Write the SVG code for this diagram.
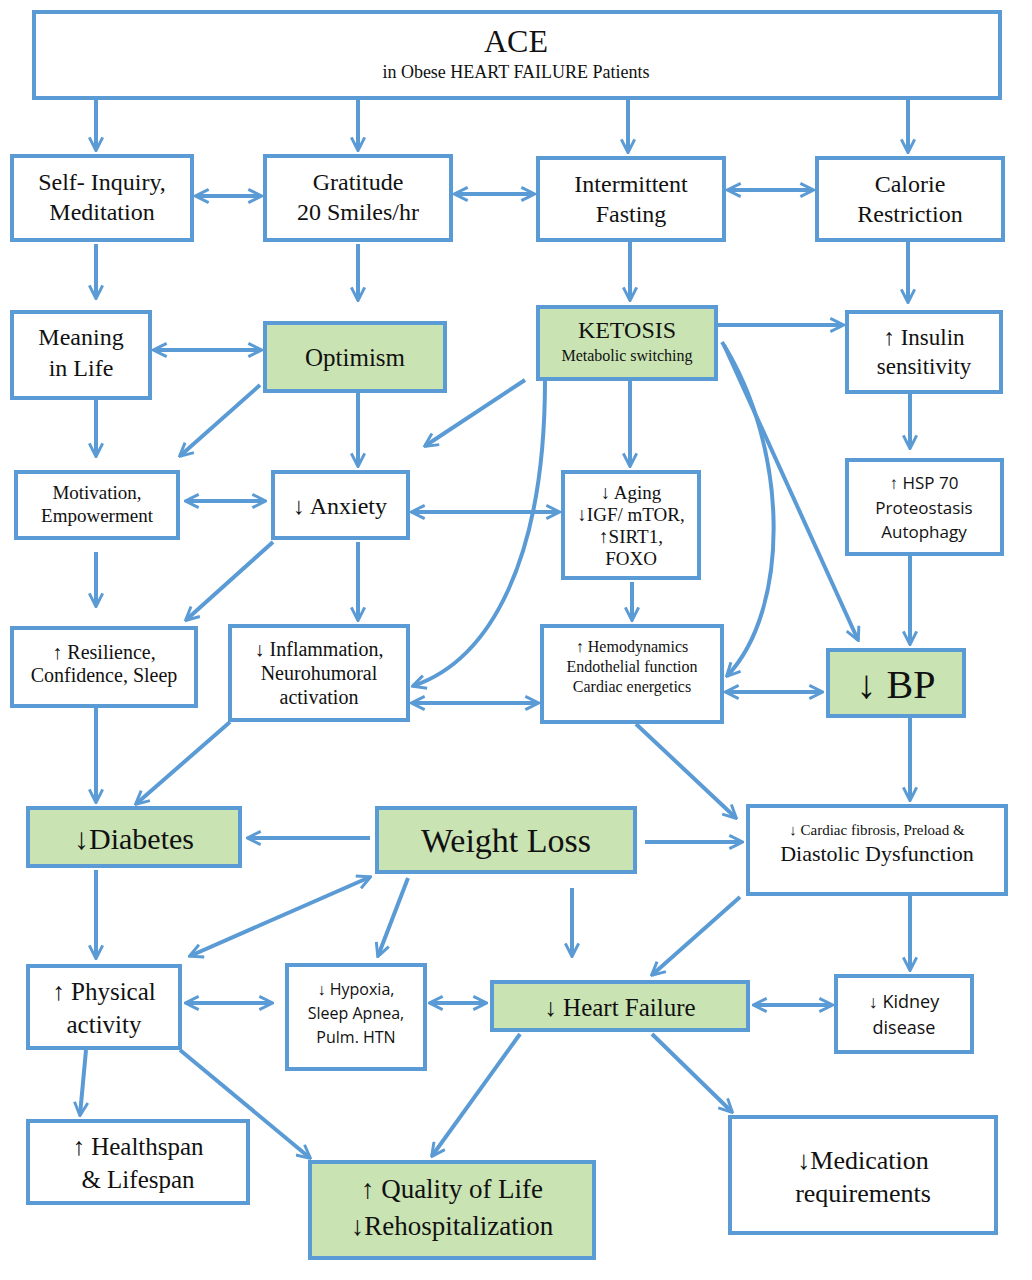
<svg xmlns="http://www.w3.org/2000/svg" width="1032" height="1280" viewBox="0 0 1032 1280">
<style>
.b{fill:#fff;stroke:#5b9bd5;stroke-width:4}
.g{fill:#c9e3b3;stroke:#5b9bd5;stroke-width:4}
text{font-family:"Liberation Serif","DejaVu Serif",serif;fill:#111;text-anchor:middle}
.s{font-family:"Open Sans","Liberation Sans",sans-serif}
#c path,#c line{stroke:#5b9bd5;stroke-width:4;fill:none;marker-end:url(#a)}
#c .d{marker-start:url(#a)}
</style>
<defs><marker id="a" viewBox="0 0 12 12" refX="10.5" refY="6" markerWidth="16" markerHeight="16" markerUnits="userSpaceOnUse" orient="auto-start-reverse"><path d="M1,1 L11,6 L1,11" fill="none" stroke="#5b9bd5" stroke-width="2.2"/></marker></defs>
<rect width="1032" height="1280" fill="#fff"/>
<g id="c">
<line x1="96" y1="100" x2="96" y2="150"/><line x1="358" y1="100" x2="358" y2="150"/><line x1="628" y1="100" x2="628" y2="152"/><line x1="908" y1="100" x2="908" y2="152"/>
<line class="d" x1="196" y1="196" x2="261" y2="196"/><line class="d" x1="455" y1="194" x2="534" y2="194"/><line class="d" x1="728" y1="190" x2="813" y2="190"/>
<line x1="96" y1="244" x2="96" y2="298"/><line x1="358" y1="244" x2="358" y2="300"/><line x1="630" y1="242" x2="630" y2="300"/><line x1="908" y1="242" x2="908" y2="302"/>
<line class="d" x1="154" y1="350" x2="261" y2="350"/>
<line x1="718" y1="325" x2="843" y2="325"/>
<line x1="96" y1="400" x2="96" y2="456"/>
<line x1="260" y1="385" x2="180" y2="456"/>
<line x1="358" y1="393" x2="358" y2="466"/>
<line x1="525" y1="380" x2="425" y2="446"/>
<line x1="630" y1="381" x2="630" y2="466"/>
<line x1="910" y1="394" x2="910" y2="448"/>
<line class="d" x1="186" y1="501" x2="265" y2="501"/>
<line class="d" x1="412" y1="512" x2="559" y2="512"/>
<line x1="96" y1="552" x2="96" y2="606"/>
<line x1="273" y1="542" x2="186" y2="620"/>
<line x1="358" y1="542" x2="358" y2="620"/>
<line x1="632" y1="582" x2="632" y2="620"/>
<path d="M545,380 C545,560 490,660 413,686"/>
<path d="M722,342 C790,450 790,610 727,676"/>
<line x1="724" y1="345" x2="858" y2="640"/>
<line x1="910" y1="556" x2="910" y2="644"/>
<line class="d" x1="412" y1="703" x2="538" y2="703"/>
<line class="d" x1="726" y1="692" x2="822" y2="692"/>
<line x1="230" y1="722" x2="136" y2="804"/>
<line x1="96" y1="708" x2="96" y2="802"/>
<line x1="910" y1="718" x2="910" y2="800"/>
<line x1="636" y1="724" x2="736" y2="818"/>
<line x1="370" y1="838" x2="248" y2="838"/>
<line x1="645" y1="842" x2="742" y2="842"/>
<line x1="96" y1="870" x2="96" y2="958"/>
<line class="d" x1="370" y1="877" x2="190" y2="956"/>
<line x1="408" y1="878" x2="378" y2="956"/>
<line x1="572" y1="888" x2="572" y2="956"/>
<line x1="740" y1="897" x2="652" y2="975"/>
<line x1="910" y1="896" x2="910" y2="970"/>
<line class="d" x1="186" y1="1003" x2="272" y2="1003"/>
<line class="d" x1="430" y1="1003" x2="486" y2="1003"/>
<line class="d" x1="754" y1="1005" x2="832" y2="1005"/>
<line x1="86" y1="1050" x2="80" y2="1115"/>
<line x1="180" y1="1050" x2="310" y2="1158"/>
<line x1="520" y1="1034" x2="432" y2="1156"/>
<line x1="652" y1="1034" x2="732" y2="1112"/>
</g>
<g id="ace"><rect class="b" x="34" y="12" width="966" height="86"/><text x="516" y="52" font-size="32">ACE</text><text x="516" y="78" font-size="18">in Obese HEART FAILURE Patients</text></g>
<g id="self"><rect class="b" x="12" y="156" width="180" height="84"/><text x="102" y="190" font-size="24">Self- Inquiry,</text><text x="102" y="220" font-size="24">Meditation</text></g>
<g id="grat"><rect class="b" x="265" y="156" width="186" height="84"/><text x="358" y="190" font-size="24">Gratitude</text><text x="358" y="220" font-size="24">20 Smiles/hr</text></g>
<g id="if"><rect class="b" x="538" y="158" width="186" height="82"/><text x="631" y="192" font-size="24">Intermittent</text><text x="631" y="222" font-size="24">Fasting</text></g>
<g id="cr"><rect class="b" x="817" y="158" width="186" height="82"/><text x="910" y="192" font-size="24">Calorie</text><text x="910" y="222" font-size="24">Restriction</text></g>
<g id="mean"><rect class="b" x="12" y="312" width="138" height="86"/><text x="81" y="345" font-size="24">Meaning</text><text x="81" y="376" font-size="24">in Life</text></g>
<g id="opt"><rect class="g" x="265" y="323" width="180" height="68"/><text x="355" y="366" font-size="25">Optimism</text></g>
<g id="ket"><rect class="g" x="538" y="307" width="178" height="72"/><text x="627" y="338" font-size="24">KETOSIS</text><text x="627" y="361" font-size="16">Metabolic switching</text></g>
<g id="ins"><rect class="b" x="847" y="312" width="154" height="80"/><text x="924" y="345" font-size="23">↑ Insulin</text><text x="924" y="374" font-size="23">sensitivity</text></g>
<g id="mot"><rect class="b" x="16" y="472" width="162" height="66"/><text x="97" y="499" font-size="19">Motivation,</text><text x="97" y="522" font-size="19">Empowerment</text></g>
<g id="anx"><rect class="b" x="273" y="472" width="135" height="66"/><text x="340" y="514" font-size="24">↓ Anxiety</text></g>
<g id="aging"><rect class="b" x="563" y="472" width="136" height="106"/><text x="631" y="499" font-size="19">↓ Aging</text><text x="631" y="521" font-size="19">↓IGF/ mTOR,</text><text x="631" y="543" font-size="19">↑SIRT1,</text><text x="631" y="565" font-size="19">FOXO</text></g>
<g id="hsp"><rect class="b" x="847" y="460" width="155" height="94"/><text class="s" x="924" y="489" font-size="17">↑ HSP 70</text><text class="s" x="924" y="514" font-size="17">Proteostasis</text><text class="s" x="924" y="538" font-size="17">Autophagy</text></g>
<g id="res"><rect class="b" x="12" y="628" width="184" height="78"/><text x="104" y="659" font-size="20">↑ Resilience,</text><text x="104" y="682" font-size="20">Confidence, Sleep</text></g>
<g id="infl"><rect class="b" x="230" y="626" width="178" height="94"/><text x="319" y="656" font-size="20">↓ Inflammation,</text><text x="319" y="680" font-size="20">Neurohumoral</text><text x="319" y="704" font-size="20">activation</text></g>
<g id="hemo"><rect class="b" x="542" y="626" width="180" height="96"/><text x="632" y="652" font-size="16">↑ Hemodynamics</text><text x="632" y="672" font-size="16">Endothelial function</text><text x="632" y="692" font-size="16">Cardiac energetics</text></g>
<g id="bp"><rect class="g" x="828" y="650" width="136" height="66"/><text x="896" y="698" font-size="40">↓ BP</text></g>
<g id="diab"><rect class="g" x="28" y="808" width="212" height="58"/><text x="134" y="849" font-size="30">↓Diabetes</text></g>
<g id="wl"><rect class="g" x="377" y="808" width="258" height="64"/><text x="506" y="852" font-size="34">Weight  Loss</text></g>
<g id="card"><rect class="b" x="748" y="806" width="258" height="88"/><text x="877" y="835" font-size="15">↓ Cardiac fibrosis, Preload &amp;</text><text x="877" y="861" font-size="22">Diastolic Dysfunction</text></g>
<g id="phys"><rect class="b" x="28" y="966" width="152" height="82"/><text x="104" y="1000" font-size="25">↑ Physical</text><text x="104" y="1033" font-size="25">activity</text></g>
<g id="hyp"><rect class="b" x="287" y="965" width="138" height="104"/><text class="s" x="356" y="995" font-size="16">↓ Hypoxia,</text><text class="s" x="356" y="1019" font-size="16">Sleep Apnea,</text><text class="s" x="356" y="1043" font-size="16">Pulm. HTN</text></g>
<g id="hf"><rect class="g" x="492" y="982" width="256" height="48"/><text x="620" y="1016" font-size="25">↓ Heart Failure</text></g>
<g id="kid"><rect class="b" x="836" y="976" width="136" height="76"/><text class="s" x="904" y="1008" font-size="18">↓ Kidney</text><text class="s" x="904" y="1034" font-size="18">disease</text></g>
<g id="hs"><rect class="b" x="28" y="1121" width="220" height="82"/><text x="138" y="1155" font-size="25">↑ Healthspan</text><text x="138" y="1188" font-size="25">&amp; Lifespan</text></g>
<g id="qol"><rect class="g" x="310" y="1162" width="284" height="96"/><text x="452" y="1198" font-size="27">↑ Quality of Life</text><text x="452" y="1235" font-size="27">↓Rehospitalization</text></g>
<g id="med"><rect class="b" x="730" y="1117" width="266" height="116"/><text x="863" y="1169" font-size="26">↓Medication</text><text x="863" y="1202" font-size="26">requirements</text></g>
</svg>
